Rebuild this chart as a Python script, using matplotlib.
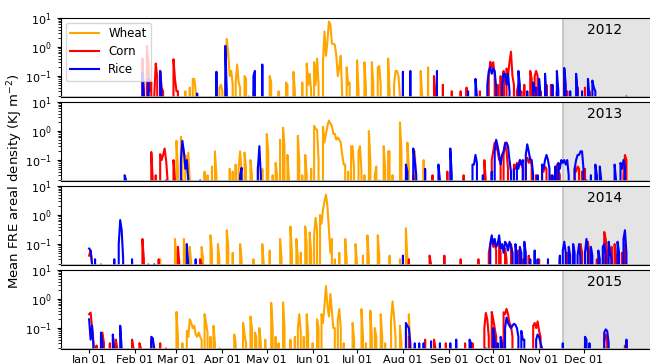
import numpy as np
import matplotlib
matplotlib.use("Agg")
import matplotlib.pyplot as plt

# daily values (day of year, mean FRE areal density); missing days are 0
wheat_2012 = [(65,0.03),(68,0.04),(70,0.08),(71,0.08),(72,0.03),(86,0.14),(88,0.04),(89,0.05),(90,0.03),(92,0.08),(93,1.9),(94,0.6),(95,0.1),(96,0.15),(97,0.05),(99,0.06),(100,0.25),(101,0.06),(102,0.04),(105,0.1),(106,0.08),(108,0.02),(111,0.03),(122,0.1),(123,0.06),(128,0.03),(133,0.06),(134,0.05),(138,0.14),(139,0.03),(144,0.06),(147,0.27),(148,0.05),(149,0.12),(150,0.03),(152,0.3),(153,0.05),(154,0.4),(155,0.05),(158,0.3),(159,3.4),(160,0.5),(161,1.5),(162,7.5),(163,6.0),(164,1.3),(165,1.3),(166,1.2),(167,0.5),(168,0.1),(169,0.2),(170,0.5),(171,0.02),(174,0.2),(175,0.05),(176,0.06),(181,0.35),(182,0.03),(186,0.3),(187,0.04),(191,0.3),(192,0.05),(195,0.2),(196,0.22),(197,0.05),(202,0.4),(203,0.03),(206,0.05),(207,0.15),(208,0.15),(209,0.1),(210,0.02),(224,0.15),(225,0.02),(229,0.2)]
corn_2012 = [(36,0.4),(37,0.03),(39,1.1),(40,0.3),(41,0.03),(42,0.06),(44,0.02),(45,0.27),(46,0.1),(48,0.15),(49,0.04),(50,0.03),(57,0.38),(58,0.08),(59,0.03),(60,0.03),(233,0.1),(234,0.02),(239,0.05),(245,0.03),(251,0.03),(255,0.04),(264,0.03),(270,0.1),(271,0.31),(272,0.2),(273,0.3),(274,0.1),(276,0.05),(278,0.1),(280,0.15),(282,0.18),(283,0.1),(284,0.3),(285,0.69),(286,0.1),(287,0.05),(289,0.03),(290,0.05),(292,0.03),(294,0.05),(298,0.15),(299,0.08),(301,0.1),(302,0.15),(303,0.1),(305,0.03),(309,0.05),(312,0.05),(316,0.03),(321,0.1),(323,0.03),(330,0.04),(335,0.04),(338,0.03),(363,0.02)]
rice_2012 = [(36,0.13),(37,0.02),(40,0.08),(48,0.15),(49,0.02),(73,0.025),(86,0.14),(92,1.1),(93,0.03),(111,0.1),(112,0.15),(117,0.25),(212,0.14),(217,0.15),(235,0.15),(256,0.03),(261,0.08),(262,0.02),(269,0.05),(270,0.15),(271,0.2),(272,0.12),(273,0.18),(274,0.15),(275,0.04),(279,0.05),(280,0.12),(281,0.12),(282,0.05),(283,0.12),(284,0.03),(290,0.15),(291,0.05),(296,0.03),(300,0.06),(301,0.03),(302,0.04),(304,0.08),(305,0.02),(308,0.12),(309,0.02),(313,0.05),(316,0.15),(317,0.03),(321,0.19),(322,0.05),(325,0.03),(329,0.12),(330,0.03),(333,0.03),(337,0.08),(338,0.02),(340,0.07),(341,0.04),(342,0.03)]

wheat_2013 = [(59,0.46),(60,0.05),(62,0.63),(63,0.1),(65,0.15),(66,0.04),(67,0.18),(68,0.02),(78,0.04),(80,0.03),(83,0.06),(85,0.2),(86,0.03),(95,0.05),(97,0.04),(99,0.07),(101,0.05),(102,0.2),(103,0.04),(105,0.18),(106,0.05),(109,0.1),(110,0.03),(114,0.06),(117,0.05),(120,0.79),(121,0.2),(124,0.03),(126,0.08),(127,0.03),(129,0.5),(131,1.3),(132,0.3),(134,0.15),(135,0.02),(141,0.69),(142,0.1),(144,0.03),(146,0.15),(147,0.03),(150,0.05),(152,1.5),(153,1.2),(154,1.1),(155,0.1),(158,1.4),(159,0.4),(160,0.8),(161,1.5),(162,2.3),(163,1.8),(164,1.5),(165,0.8),(166,0.8),(167,0.5),(168,0.6),(169,0.5),(170,0.4),(171,0.15),(172,0.07),(173,0.07),(175,0.04),(177,0.3),(178,0.3),(179,0.05),(182,0.2),(183,0.3),(184,0.04),(186,0.03),(189,1.0),(190,0.1),(193,0.03),(194,0.06),(196,0.02),(199,0.3),(200,0.05),(202,0.2),(203,0.2),(205,0.03),(210,2.0),(211,0.2),(213,0.02),(215,0.4),(216,0.05),(220,0.2),(221,0.02),(226,0.1)]
corn_2013 = [(42,0.19),(43,0.02),(45,0.03),(48,0.16),(49,0.1),(50,0.15),(51,0.25),(52,0.1),(53,0.02),(57,0.1),(58,0.02),(63,0.02),(219,0.03),(232,0.03),(242,0.04),(253,0.03),(267,0.1),(268,0.02),(272,0.1),(273,0.2),(274,0.4),(275,0.3),(276,0.2),(277,0.1),(278,0.1),(280,0.15),(281,0.4),(282,0.2),(283,0.05),(287,0.07),(288,0.05),(289,0.08),(290,0.06),(291,0.1),(292,0.07),(293,0.05),(295,0.1),(296,0.12),(297,0.08),(298,0.12),(299,0.06),(302,0.03),(306,0.05),(307,0.04),(308,0.06),(309,0.05),(312,0.03),(316,0.07),(317,0.05),(318,0.03),(328,0.05),(329,0.04),(330,0.06),(331,0.05),(333,0.04),(335,0.05),(343,0.03),(361,0.03),(362,0.15),(363,0.1)]
rice_2013 = [(24,0.03),(25,0.02),(52,0.02),(62,0.1),(63,0.46),(64,0.2),(65,0.05),(66,0.1),(67,0.02),(75,0.02),(102,0.03),(103,0.054),(114,0.05),(115,0.3),(116,0.03),(214,0.07),(215,0.04),(219,0.25),(220,0.1),(221,0.03),(227,0.05),(236,0.07),(237,0.02),(244,0.25),(245,0.03),(253,0.02),(259,0.07),(260,0.07),(261,0.15),(262,0.08),(266,0.03),(272,0.04),(274,0.2),(275,0.5),(276,0.3),(277,0.15),(278,0.07),(279,0.15),(280,0.2),(281,0.35),(282,0.4),(283,0.3),(284,0.1),(285,0.04),(287,0.05),(289,0.07),(290,0.05),(291,0.1),(292,0.07),(293,0.1),(295,0.15),(296,0.35),(297,0.2),(298,0.1),(299,0.1),(300,0.03),(303,0.03),(306,0.07),(307,0.05),(308,0.1),(309,0.15),(310,0.1),(311,0.05),(313,0.03),(315,0.06),(317,0.08),(318,0.05),(319,0.1),(320,0.08),(321,0.1),(322,0.07),(323,0.1),(324,0.03),(328,0.05),(329,0.1),(330,0.15),(331,0.15),(332,0.2),(333,0.2),(334,0.05),(336,0.02),(339,0.03),(342,0.07),(343,0.03),(345,0.06),(346,0.02),(355,0.07),(356,0.02),(359,0.08),(360,0.05),(361,0.1),(362,0.06)]

wheat_2014 = [(48,0.03),(58,0.15),(59,0.03),(64,0.15),(65,0.04),(68,0.08),(69,0.02),(76,0.08),(77,0.03),(82,0.2),(83,0.05),(87,0.1),(88,0.03),(93,0.3),(94,0.08),(97,0.05),(102,0.1),(103,0.03),(111,0.03),(117,0.1),(118,0.02),(122,0.06),(129,0.15),(130,0.03),(136,0.4),(137,0.05),(140,0.15),(141,0.03),(143,0.05),(146,0.4),(147,0.1),(149,0.25),(150,0.05),(152,0.2),(153,0.8),(154,0.3),(156,1.0),(157,0.5),(158,1.5),(159,3.0),(160,5.0),(161,2.0),(162,0.3),(163,0.05),(164,0.15),(166,0.03),(169,0.05),(173,0.15),(174,0.03),(180,0.1),(181,0.02),(185,0.04),(188,0.2),(189,0.03),(195,0.2),(196,0.04),(203,0.04),(210,0.03),(214,0.35),(215,0.03)]
corn_2014 = [(0,0.04),(1,0.06),(2,0.02),(8,0.02),(36,0.15),(37,0.03),(40,0.02),(47,0.03),(60,0.08),(61,0.02),(75,0.03),(76,0.02),(216,0.03),(230,0.04),(231,0.02),(240,0.04),(251,0.03),(263,0.03),(270,0.05),(271,0.1),(272,0.15),(273,0.08),(274,0.1),(275,0.06),(277,0.12),(278,0.05),(281,0.07),(282,0.03),(285,0.1),(286,0.05),(290,0.06),(293,0.03),(297,0.04),(304,0.03),(318,0.03),(323,0.05),(324,0.03),(327,0.06),(332,0.1),(333,0.05),(337,0.12),(338,0.04),(343,0.03),(348,0.26),(349,0.15),(350,0.05),(353,0.08),(355,0.1),(356,0.04),(360,0.05),(362,0.1)]
rice_2014 = [(0,0.07),(1,0.06),(2,0.02),(4,0.03),(17,0.03),(20,0.1),(21,0.67),(22,0.3),(23,0.03),(29,0.03),(44,0.02),(66,0.1),(67,0.02),(72,0.03),(212,0.04),(271,0.1),(272,0.2),(273,0.1),(274,0.15),(275,0.08),(276,0.1),(277,0.2),(278,0.07),(279,0.1),(280,0.05),(281,0.12),(282,0.1),(283,0.06),(284,0.12),(285,0.08),(286,0.05),(288,0.1),(289,0.04),(291,0.08),(292,0.05),(294,0.12),(295,0.05),(298,0.03),(301,0.06),(303,0.03),(310,0.03),(318,0.04),(320,0.06),(321,0.12),(322,0.05),(324,0.08),(325,0.04),(327,0.1),(328,0.05),(330,0.04),(331,0.1),(332,0.03),(335,0.05),(336,0.15),(337,0.05),(339,0.08),(340,0.04),(344,0.06),(345,0.03),(347,0.08),(348,0.1),(349,0.04),(351,0.12),(352,0.05),(353,0.03),(357,0.12),(358,0.05),(361,0.15),(362,0.3),(363,0.05)]

wheat_2015 = [(59,0.36),(60,0.05),(63,0.03),(66,0.08),(67,0.05),(68,0.2),(69,0.15),(70,0.1),(71,0.12),(72,0.06),(73,0.05),(74,0.07),(75,0.05),(76,0.04),(78,0.3),(79,0.15),(80,0.07),(82,0.05),(84,0.12),(85,0.03),(88,0.02),(98,0.06),(99,0.03),(104,0.15),(105,0.06),(106,0.03),(109,0.25),(110,0.1),(112,0.07),(113,0.05),(115,0.1),(116,0.03),(119,0.04),(123,0.74),(124,0.1),(126,0.05),(128,0.03),(131,0.77),(132,0.1),(136,0.04),(139,0.05),(141,0.1),(142,0.3),(143,0.07),(145,0.05),(147,0.3),(148,0.06),(151,0.03),(154,0.2),(155,0.1),(157,0.3),(158,0.15),(159,0.6),(160,2.8),(161,0.6),(162,0.25),(163,1.5),(164,0.4),(165,0.1),(166,0.1),(168,0.2),(169,0.45),(170,0.1),(172,0.03),(178,0.15),(179,0.04),(184,0.45),(185,0.05),(187,0.03),(190,0.4),(191,0.05),(193,0.1),(194,0.05),(197,0.3),(198,0.05),(200,0.03),(204,0.2),(205,0.83),(206,0.25),(207,0.05),(210,0.12),(211,0.03),(216,0.3),(217,0.02)]
corn_2015 = [(0,0.3),(1,0.34),(2,0.1),(3,0.03),(5,0.025),(8,0.05),(9,0.07),(10,0.03),(14,0.03),(18,0.04),(19,0.02),(29,0.04),(30,0.02),(34,0.03),(35,0.02),(42,0.04),(48,0.03),(52,0.02),(216,0.05),(217,0.02),(227,0.04),(233,0.04),(234,0.02),(241,0.03),(254,0.03),(259,0.03),(267,0.1),(268,0.33),(269,0.2),(270,0.05),(272,0.36),(273,0.2),(274,0.1),(275,0.05),(280,0.35),(281,0.3),(282,0.46),(283,0.3),(284,0.15),(285,0.12),(286,0.05),(300,0.12),(301,0.15),(302,0.1),(303,0.17),(304,0.08),(305,0.05),(335,0.025),(348,0.04),(349,0.06),(350,0.03),(362,0.025)]
rice_2015 = [(0,0.2),(1,0.04),(2,0.12),(3,0.02),(8,0.07),(9,0.03),(16,0.06),(17,0.02),(21,0.12),(22,0.02),(42,0.05),(43,0.045),(44,0.02),(214,0.15),(215,0.12),(216,0.1),(217,0.03),(220,0.03),(223,0.03),(226,0.03),(231,0.035),(237,0.03),(244,0.03),(248,0.04),(257,0.04),(258,0.03),(268,0.02),(273,0.1),(274,0.04),(276,0.03),(278,0.05),(279,0.03),(281,0.1),(282,0.23),(283,0.15),(284,0.12),(285,0.1),(286,0.12),(287,0.14),(288,0.13),(289,0.1),(290,0.05),(292,0.08),(293,0.04),(294,0.04),(302,0.04),(303,0.06),(304,0.05),(305,0.03),(306,0.02),(320,0.03),(335,0.05),(336,0.04),(338,0.03),(348,0.07),(349,0.09),(350,0.08),(351,0.03),(363,0.04)]

years = [2012, 2013, 2014, 2015]
wheat = [wheat_2012, wheat_2013, wheat_2014, wheat_2015]
corn = [corn_2012, corn_2013, corn_2014, corn_2015]
rice = [rice_2012, rice_2013, rice_2014, rice_2015]

month_starts = [0, 31, 59, 90, 120, 151, 181, 212, 243, 273, 304, 334]
month_labels = ['Jan 01', 'Feb 01', 'Mar 01', 'Apr 01', 'May 01', 'Jun 01',
                'Jul 01', 'Aug 01', 'Sep 01', 'Oct 01', 'Nov 01', 'Dec 01']
shade_start = 320


def to_daily(pairs):
    vals = np.zeros(365)
    for d, v in pairs:
        vals[d] = v
    return vals


days = np.arange(365)
fig = plt.figure(figsize=(6.5, 3.63), dpi=100)

# panel layout in pixels (figure is cropped on the right)
left, width = 61 / 650, 598 / 650
ph, gap = 79 / 363, 5 / 363
top = 1 - 18 / 363

axes = []
for i, yr in enumerate(years):
    ax = fig.add_axes([left, top - ph - i * (ph + gap), width, ph])
    axes.append(ax)
    ax.axvspan(shade_start, 420, color='#e4e4e4', zorder=0)
    ax.axvline(shade_start, color='#c0c0c0', lw=1.2, zorder=1)
    ax.plot(days, to_daily(wheat[i]), color='orange', lw=1.5, label='Wheat')
    ax.plot(days, to_daily(corn[i]), color='red', lw=1.5, label='Corn')
    ax.plot(days, to_daily(rice[i]), color='blue', lw=1.5, label='Rice')
    ax.set_yscale('log')
    ax.set_ylim(0.019, 10)
    ax.set_xlim(-19, 385)
    ax.axhline(0.0196, color='#a8a8a8', lw=1.8, zorder=3)
    ax.set_xticks(month_starts)
    ax.tick_params(labelsize=8, length=3)
    ax.tick_params(axis='x', pad=1.5)
    if i < 3:
        ax.set_xticklabels([])
        ax.tick_params(axis='x', length=0)
    else:
        ax.set_xticklabels(month_labels)
    ax.text(0.909, 0.85, str(yr), transform=ax.transAxes, fontsize=10,
            ha='center', va='center')

axes[0].legend(loc='upper left', fontsize=8.5, handlelength=2.4,
               borderaxespad=0.4, labelspacing=0.4)

fig.text(0.024, 0.5, 'Mean FRE areal density (KJ m$^{-2}$)', rotation=90,
         ha='center', va='center', fontsize=9.5)

fig.savefig('out.png', dpi=100)
